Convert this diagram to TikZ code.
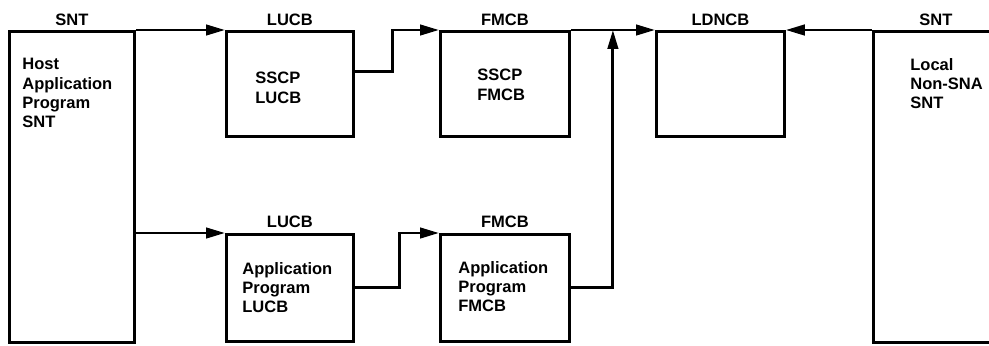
\documentclass[tikz,border=0pt]{standalone}
\usepackage{fontspec}
\setmainfont{Liberation Sans}
\usetikzlibrary{arrows.meta,calc}
\begin{document}
\begin{tikzpicture}[x=0.02cm,y=-0.02cm,
  blk/.style={draw, line width=1.6pt, inner sep=0pt, anchor=north west},
  txt/.style={font=\fontsize{9.4}{11}\selectfont\bfseries, align=left, anchor=north west, inner sep=0pt},
  hdr/.style={font=\fontsize{9.4}{11}\selectfont\bfseries, anchor=base, inner sep=0pt},
  con/.style={line width=1.6pt},
  arr/.style={con, -{Triangle[length=3.8mm,width=2.1mm]}}]
  \useasboundingbox (0,0) rectangle (989,345);
  \clip (0,0) rectangle (989,345);
  % blocks
  \node[blk, minimum width=2.5cm, minimum height=6.22cm] (host) at (8,30) {};
  \node[blk, minimum width=2.54cm, minimum height=2.1cm] (lucbA) at (225,30) {};
  \node[blk, minimum width=2.58cm, minimum height=2.1cm] (fmcbA) at (439,30) {};
  \node[blk, minimum width=2.56cm, minimum height=2.1cm] (ldncb) at (655,30) {};
  \node[blk, minimum width=2.5cm, minimum height=6.22cm] (local) at (872,30) {};
  \node[blk, minimum width=2.54cm, minimum height=2.14cm] (lucbB) at (225,233) {};
  \node[blk, minimum width=2.58cm, minimum height=2.14cm] (fmcbB) at (439,233) {};
  % headers
  \node[hdr] (hHost) at ($(host.north)+(0,-5)$) {SNT};
  \node[hdr] (hLucbA) at ($(lucbA.north)+(0,-5)$) {LUCB};
  \node[hdr] (hFmcbA) at ($(fmcbA.north)+(0,-5)$) {FMCB};
  \node[hdr] (hLdncb) at ($(ldncb.north)+(0,-5)$) {LDNCB};
  \node[hdr] (hLocal) at ($(local.north)+(0,-5)$) {SNT};
  \node[hdr] (hLucbB) at ($(lucbB.north)+(0,-6)$) {LUCB};
  \node[hdr] (hFmcbB) at ($(fmcbB.north)+(0,-6)$) {FMCB};
  % texts
  \node[txt] (tHost) at ($(host.north west)+(14,28)$) {Host\\Application\\Program\\SNT};
  \node[txt] (tLucbA) at ($(lucbA.north west)+(30,42)$) {SSCP\\LUCB};
  \node[txt] (tFmcbA) at ($(fmcbA.north west)+(38,39)$) {SSCP\\FMCB};
  \node[txt] (tLocal) at ($(local.north west)+(38,28)$) {Local\\Non-SNA\\SNT};
  \node[txt] (tLucbB) at ($(lucbB.north west)+(17,29)$) {Application\\Program\\LUCB};
  \node[txt] (tFmcbB) at ($(fmcbB.north west)+(19,28)$) {Application\\Program\\FMCB};
  % connectors
  \draw[arr] (host.north east) -- (lucbA.north west);
  \draw[arr] (host.east |- lucbB.north) -- (lucbB.north west);
  \draw[arr] ($(lucbA.east)+(0,-12)$) -- ++(38,0) |- (fmcbA.north west);
  \draw[arr] (lucbB.east) -- ++(45,0) |- (fmcbB.north west);
  \draw[arr] (fmcbA.north east) -- (ldncb.north west);
  \coordinate (join) at ($(fmcbA.north east)!0.5!(ldncb.north west)$);
  \draw[arr] (fmcbB.east) -| (join);
  \draw[arr] (local.north west) -- (ldncb.north east);
\end{tikzpicture}
\end{document}
